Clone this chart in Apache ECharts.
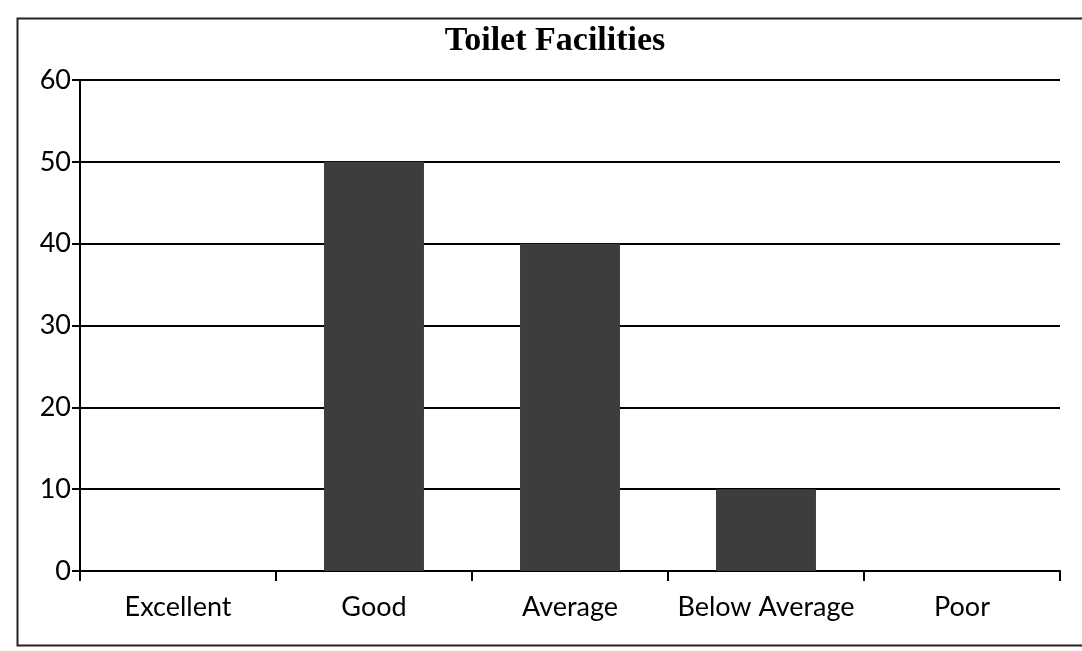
<!DOCTYPE html>
<html>
<head>
<meta charset="utf-8">
<script src="https://cdn.jsdelivr.net/npm/echarts@6/dist/echarts.min.js"></script>
<style>
html,body{margin:0;padding:0;background:#fff;}
#c{width:1082px;height:651px;}
</style>
</head>
<body>
<div id="c"></div>
<script>
const categories = ["Excellent", "Good", "Average", "Below Average", "Poor"];
const values = [0, 50, 40, 10, 0];
const yTicks = { min: 0, max: 60, interval: 10 };
const title = "Toilet Facilities";

const chart = echarts.init(document.getElementById('c'), null, {renderer: 'canvas'});
chart.setOption({
  backgroundColor: '#ffffff',
  animation: false,
  title: {
    text: title,
    left: 550, top: 19, textAlign: 'center',
    textStyle: { fontFamily: 'Liberation Serif', fontWeight: 'bold', fontSize: 34, color: '#000' }
  },
  graphic: [{
    type: 'rect', left: 15, top: 16,
    shape: { width: 1070, height: 627 },
    style: { fill: 'none', stroke: '#222', lineWidth: 2 }
  }],
  grid: { left: 80, right: 22, top: 80, bottom: 80, containLabel: false },
  xAxis: {
    type: 'category',
    data: categories,
    axisLine: { lineStyle: { color: '#000', width: 2 } },
    axisTick: { show: true, interval: 0, length: 10, lineStyle: { color: '#000', width: 2 } },
    axisLabel: { interval: 0, hideOverlap: false, color: '#000', fontFamily: 'Lato', fontSize: 27, margin: 23 },
    splitLine: { show: false }
  },
  yAxis: {
    type: 'value',
    min: yTicks.min, max: yTicks.max, interval: yTicks.interval,
    axisLine: { show: true, lineStyle: { color: '#000', width: 2 } },
    axisTick: { show: true, length: 8, lineStyle: { color: '#000', width: 2 } },
    axisLabel: { color: '#000', fontFamily: 'Lato', fontSize: 27, margin: 9 },
    splitLine: { show: true, lineStyle: { color: '#000', width: 2 } }
  },
  series: [{
    type: 'bar',
    data: values,
    barWidth: '51%',
    itemStyle: { color: '#3d3c3e' }
  }]
});
</script>
</body>
</html>
